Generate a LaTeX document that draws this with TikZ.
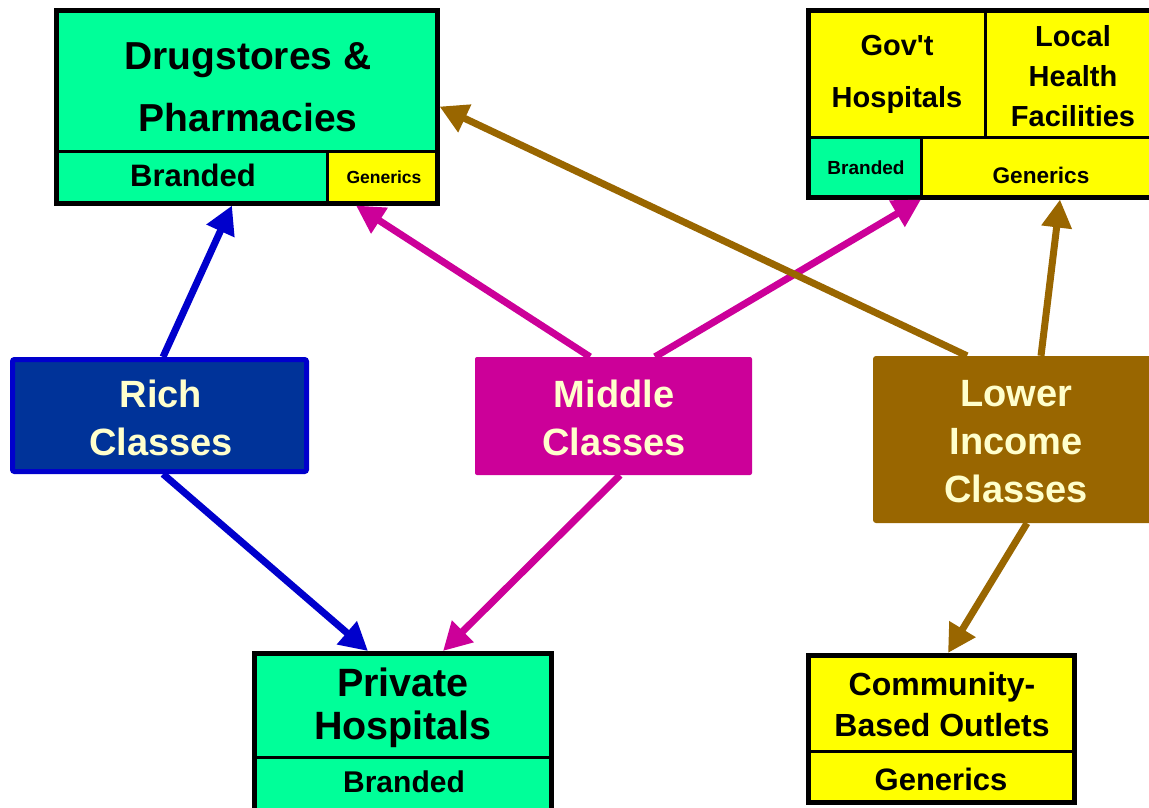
\documentclass[tikz,border=0pt]{standalone}
\usepackage{fontspec}
\setmainfont{Liberation Sans}
\newfontfamily\plainarial{Liberation Sans}
\usetikzlibrary{arrows.meta}
\definecolor{cteal}{HTML}{00FF99}
\definecolor{cyel}{HTML}{FFFF00}
\definecolor{richfill}{HTML}{003399}
\definecolor{richline}{HTML}{0000CC}
\definecolor{cmag}{HTML}{CC0099}
\definecolor{cbrown}{HTML}{996600}
\definecolor{cream}{HTML}{FFFFCC}
\newcommand\myfs[2]{\fontsize{#1}{#2}\selectfont}
\begin{document}
\begin{tikzpicture}[x=1pt,y=-1pt,
  cell/.style={draw=black,line width=3pt,inner sep=0pt,outer sep=0pt},
  frame/.style={draw=black,line width=5pt,inner sep=0pt},
  lbl/.style={font=\bfseries,align=center,inner sep=0pt,text=black},
  cls/.style={font=\bfseries\myfs{38}{48},text=cream,align=center,inner sep=0pt},
  link/.style={line width=7pt,-{Triangle[length=28pt,width=29pt]}},
]
\useasboundingbox (0,0) rectangle (1149,807);
\clip (0,0) rectangle (1149,807);
\fill[white] (0,0) rectangle (1149,807);

% Drugstores box
\node[cell,fill=cteal,minimum width=381,minimum height=141] (drugtop) at (246.5,80.5) {};
\node[cell,fill=cteal,minimum width=271,minimum height=52] (drugbr) at (191.5,177) {};
\node[cell,fill=cyel,minimum width=110,minimum height=52] (druggen) at (382,177) {};
\node[frame,minimum width=381,minimum height=193] (drug) at (246.5,106.5) {};
\node[lbl,font=\bfseries\myfs{39}{62}] (drugtxt) at (248,87) {Drugstores \&\\Pharmacies};
\node[lbl,font=\bfseries\myfs{31}{36}] (drugbrtxt) at (193,175) {Branded};
\node[lbl,font=\bfseries\myfs{17.5}{20}] (druggentxt) at (384,177) {Generics};

% Government box
\node[cell,fill=cyel,minimum width=177,minimum height=127] (govh) at (896.5,73.5) {};
\node[cell,fill=cyel,minimum width=175,minimum height=127] (local) at (1072.5,73.5) {};
\node[cell,fill=cteal,minimum width=113,minimum height=60] (govbr) at (864.5,167) {};
\node[cell,fill=cyel,minimum width=239,minimum height=60] (govgen) at (1040.5,167) {};
\node[frame,minimum width=352,minimum height=187] (gov) at (984,103.5) {};
\node[lbl,font=\plainarial\bfseries\myfs{29}{52}] (govtxt) at (897,74) {Gov't\\Hospitals};
\node[lbl,font=\bfseries\myfs{29}{40}] (localtxt) at (1073,76.5) {Local\\Health\\Facilities};
\node[lbl,font=\bfseries\myfs{19}{22}] (govbrtxt) at (866,168) {Branded};
\node[lbl,font=\bfseries\myfs{22.6}{26}] (govgentxt) at (1041,175) {Generics};

% Private hospitals box
\node[cell,fill=cteal,minimum width=297,minimum height=103.5] (privtop) at (403,705.25) {};
\node[cell,fill=cteal,minimum width=297,minimum height=58] (privbr) at (403,786) {};
\node[frame,minimum width=297,minimum height=161.5] (priv) at (403,734.25) {};
\node[lbl,font=\bfseries\myfs{39.5}{43}] (privtxt) at (403,708) {Private\\Hospitals};
\node[lbl,font=\bfseries\myfs{30}{34}] (privbrtxt) at (404,782) {Branded};

% Community box
\node[cell,fill=cyel,minimum width=266,minimum height=95.5] (comtop) at (941.5,703.25) {};
\node[cell,fill=cyel,minimum width=266,minimum height=51.5] (comgen) at (941.5,776.75) {};
\node[frame,minimum width=266,minimum height=147] (com) at (941.5,729) {};
\node[lbl,font=\bfseries\myfs{32}{41}] (comtxt) at (942,705) {Community-\\Based Outlets};
\node[lbl,font=\bfseries\myfs{31}{35}] (comgentxt) at (941,779) {Generics};

% Class boxes
\node[draw=richline,fill=richfill,line width=5pt,rounded corners=2pt,inner sep=0pt,
      minimum width=294,minimum height=112] (rich) at (159.5,415.5) {};
\node[fill=cmag,inner sep=0pt,rounded corners=2pt,minimum width=277,minimum height=118] (mid) at (613.5,416) {};
\node[fill=cbrown,inner sep=0pt,rounded corners=3pt,minimum width=287,minimum height=167] (low) at (1016.5,439.5) {};
\node[cls] (richtxt) at (161,418) {Rich\\Classes};
\node[cls] (midtxt) at (614,418) {Middle\\Classes};
\node[cls] (lowtxt) at (1016,442) {Lower\\Income\\Classes};

% Connectors
\draw[link,richline] ([xshift=3.5pt]rich.north) -- ([xshift=-14.5pt]drug.south);
\draw[link,richline] ([xshift=3.5pt]rich.south) -- ([xshift=-35pt]priv.north);
\draw[link,cmag] ([xshift=-23.5pt]mid.north) -- ([xshift=109.5pt]drug.south);
\draw[link,cmag] ([xshift=41.5pt]mid.north) -- ([xshift=-63pt]gov.south);
\draw[link,cmag] ([xshift=6.5pt]mid.south) -- ([xshift=40pt]priv.north);
\draw[link,cbrown] ([xshift=-49.5pt]low.north) -- (drug.east);
\draw[link,cbrown] ([xshift=24.5pt]low.north) -- ([xshift=76pt]gov.south);
\draw[link,cbrown] ([xshift=10.5pt]low.south) -- ([xshift=6.5pt]com.north);
\end{tikzpicture}
\end{document}
